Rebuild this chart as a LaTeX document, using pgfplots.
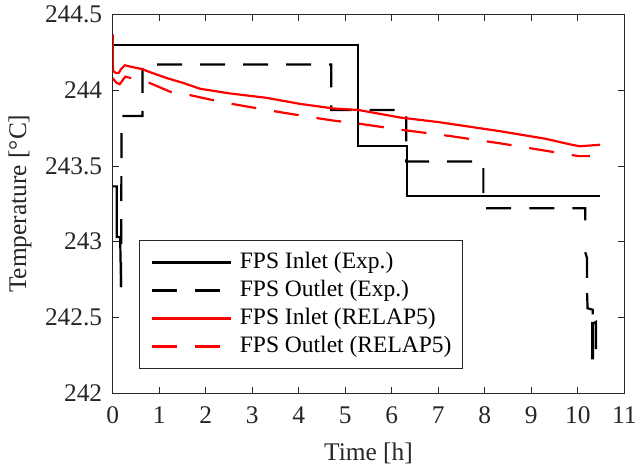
\documentclass[border=0pt]{standalone}
\usepackage{fontspec}
\setmainfont{Liberation Serif}
\usepackage{pgfplots}
\pgfplotsset{compat=1.18}
\definecolor{axgray}{RGB}{38,38,38}
\definecolor{pred}{RGB}{255,0,0}

\begin{document}
\begin{tikzpicture}
\begin{axis}[
  scale only axis,
  width=511.6bp, height=378.4bp,
  xmin=0, xmax=11, ymin=242, ymax=244.5,
  xtick={0,1,...,11},
  ytick={242,242.5,243,243.5,244,244.5},
  yticklabels={242,242.5,243,243.5,244,244.5},
  tick align=inside,
  major tick length=6bp,
  axis line style={axgray, line width=0.8bp},
  every tick/.style={axgray, line width=0.8bp},
  /pgf/number format/assume math mode=true,
  tick label style={font=\fontsize{25.5}{29}\selectfont, text=axgray},
  xticklabel style={yshift=-10bp},
  yticklabel style={xshift=-7bp},
  xlabel={Time [h]},
  ylabel={Temperature [°C]},
  label style={font=\fontsize{25.5}{29}\selectfont, text=axgray},
  xlabel style={at={(axis description cs:0.5,-0.1586)}, anchor=center},
  ylabel style={at={(axis description cs:-0.181,0.5)}, anchor=center},
  legend cell align=left,
  legend image code/.code={\draw[#1] (0bp,0bp) -- (79bp,0bp);},
  legend style={
    at={(axis description cs:0.052,0.4043)}, anchor=north west,
    draw=axgray, line width=0.8bp, fill=white,
    font=\fontsize{23.6}{27}\selectfont,
    nodes={inner sep=0pt, text height=17bp, text depth=5bp},
    inner xsep=11bp, inner ysep=11bp,
    row sep=6bp,
    /tikz/every odd column/.append style={column sep=8bp},
  },
]

% FPS inlet, experiment
\addplot[black, line width=2.2bp] coordinates {
  (0,244.30) (5.28,244.30) (5.28,243.63) (6.32,243.63) (6.32,243.30) (10.48,243.30)
};
\addlegendentry{FPS Inlet (Exp.)}

% FPS outlet, experiment (main run, dashed)
\addplot[black, line width=2.2bp, dash pattern=on 25bp off 18bp] coordinates {
  (0.18,242.70) (0.19,243.83) (0.64,243.83) (0.64,244.17) (4.70,244.17)
  (4.70,243.87) (6.31,243.87) (6.31,243.53) (7.97,243.53) (7.97,243.22)
  (10.16,243.22) (10.16,243.04)
};
\addlegendentry{FPS Outlet (Exp.)}

% FPS inlet, RELAP5
\addplot[pred, line width=2.2bp] coordinates {
  (0,244.37) (0.005,244.13) (0.06,244.115) (0.13,244.115) (0.18,244.14)
  (0.26,244.165) (0.40,244.155) (0.63,244.14) (0.80,244.12) (1.17,244.08)
  (1.50,244.05) (1.88,244.01) (2.50,243.98) (3.31,243.95) (4.03,243.91)
  (4.74,243.88) (5.28,243.87) (6.18,243.82) (7.00,243.79) (8.32,243.73)
  (9.30,243.68) (9.80,243.645) (10.04,243.63) (10.48,243.64)
};
\addlegendentry{FPS Inlet (RELAP5)}

% FPS outlet, RELAP5
\addplot[pred, line width=2.2bp, dash pattern=on 25bp off 18bp] coordinates {
  (0,244.08) (0.08,244.05) (0.15,244.04) (0.27,244.09) (0.40,244.08)
  (0.78,244.05) (1.24,243.99) (1.63,243.97) (2.38,243.92) (3.31,243.87)
  (4.31,243.82) (4.74,243.80) (5.28,243.78) (6.18,243.74) (7.20,243.70)
  (8.32,243.65) (9.32,243.60) (9.71,243.58) (10.02,243.565) (10.26,243.565)
};
\addlegendentry{FPS Outlet (RELAP5)}

% FPS outlet, experiment: densely sampled start and end (drawn solid)
\addplot[black, line width=2.2bp, forget plot] coordinates {
  (0,243.365) (0.085,243.365) (0.085,243.03) (0.16,243.03) (0.18,242.70)
};
\addplot[black, line width=2.2bp, forget plot] coordinates {
  (10.16,242.93) (10.20,242.89) (10.20,242.76)
};
\addplot[black, line width=2.2bp, forget plot] coordinates {
  (10.20,242.66) (10.21,242.56) (10.32,242.55) (10.32,242.52)
};
\addplot[black, line width=2.2bp, forget plot] coordinates {
  (10.31,242.47) (10.31,242.23) (10.33,242.23) (10.33,242.46)
  (10.39,242.47) (10.39,242.29)
};
\end{axis}
\pgfresetboundingbox
\path (-112.7bp,-77bp) rectangle (523.3bp,393bp);
\end{tikzpicture}
\end{document}
